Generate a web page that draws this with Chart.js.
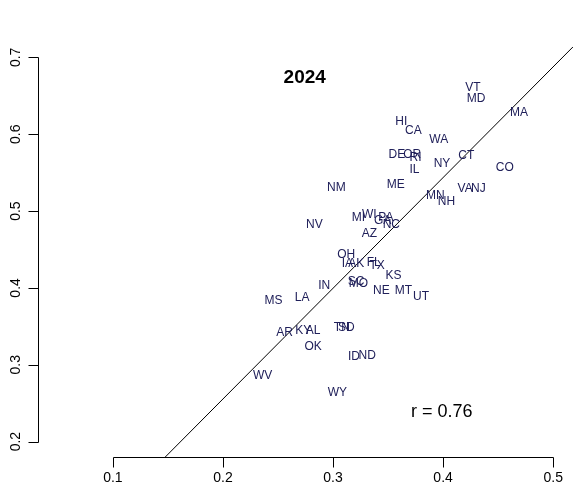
<!DOCTYPE html>
<html>
<head>
<meta charset="utf-8">
<script src="https://cdn.jsdelivr.net/npm/chart.js@4"></script>
<style>
  html, body { margin: 0; padding: 0; background: #fff; }
  canvas { display: block; }
</style>
</head>
<body>
<canvas id="chart2024" width="575" height="497"></canvas>
<script>
const states = ['VT','MD','MA','WA','CT','NY','CO','VA','NJ','MN','NH','HI','CA','DE','OR','RI','IL','ME','NM','NV',
                'MI','WI','PA','GA','NC','AZ','OH','IA','AK','FL','TX','KS','SC','MO','NE','MT','UT','IN','LA','MS',
                'AR','KY','AL','TN','SD','OK','ID','ND','WV','WY'];
const xValues = [0.427,0.430,0.469,0.396,0.421,0.399,0.456,0.420,0.432,0.393,0.403,0.362,0.373,0.358,0.372,0.375,0.374,0.357,0.303,0.283,
                 0.323,0.333,0.348,0.345,0.353,0.333,0.312,0.313,0.321,0.337,0.340,0.355,0.321,0.323,0.344,0.364,0.380,0.292,0.272,0.246,
                 0.256,0.273,0.282,0.308,0.312,0.282,0.319,0.331,0.236,0.304];
const yValues = [0.661,0.646,0.628,0.593,0.572,0.562,0.556,0.529,0.529,0.520,0.512,0.616,0.604,0.573,0.573,0.569,0.554,0.534,0.530,0.482,
                 0.492,0.495,0.491,0.488,0.482,0.471,0.443,0.431,0.431,0.433,0.429,0.416,0.408,0.406,0.396,0.396,0.388,0.403,0.387,0.383,
                 0.342,0.344,0.344,0.348,0.348,0.324,0.311,0.312,0.286,0.264];
const xTicks = [0.1, 0.2, 0.3, 0.4, 0.5];
const yTicks = [0.2, 0.3, 0.4, 0.5, 0.6, 0.7];
const panelTitle = '2024';
const corrLabel = 'r = 0.76';

// least squares fit y ~ x
const n = xValues.length;
const mx = xValues.reduce((a, b) => a + b, 0) / n;
const my = yValues.reduce((a, b) => a + b, 0) / n;
let sxy = 0, sxx = 0;
for (let i = 0; i < n; i++) {
    sxy += (xValues[i] - mx) * (yValues[i] - my);
    sxx += (xValues[i] - mx) ** 2;
}
const slope = sxy / sxx;
const intercept = my - slope * mx;

const FONT = '"Liberation Sans", Arial, sans-serif';

const rPlot = {
    id: 'rPlot',
    afterDraw(chart) {
        const ctx = chart.ctx;
        const xs = chart.scales.x;
        const ys = chart.scales.y;
        const area = chart.chartArea;

        // fitted line, clipped to plot region
        ctx.save();
        ctx.beginPath();
        ctx.rect(area.left, area.top, area.right - area.left, area.bottom - area.top);
        ctx.clip();
        ctx.strokeStyle = '#000';
        ctx.lineWidth = 1;
        ctx.beginPath();
        ctx.moveTo(xs.getPixelForValue(xs.min), ys.getPixelForValue(intercept + slope * xs.min));
        ctx.lineTo(xs.getPixelForValue(xs.max), ys.getPixelForValue(intercept + slope * xs.max));
        ctx.stroke();
        ctx.restore();

        // state labels
        ctx.save();
        ctx.font = '12px ' + FONT;
        ctx.fillStyle = '#20205a';
        ctx.textAlign = 'center';
        ctx.textBaseline = 'middle';
        chart.getDatasetMeta(0).data.forEach((pt, i) => {
            ctx.fillText(states[i], pt.x, pt.y);
        });
        ctx.restore();

        // axes, R style
        ctx.save();
        ctx.strokeStyle = '#000';
        ctx.fillStyle = '#000';
        ctx.lineWidth = 1;
        ctx.font = '14px ' + FONT;
        const axY = Math.round(area.bottom) + 0.5;
        const x0 = Math.round(xs.getPixelForValue(xTicks[0])) + 0.5;
        const x1 = Math.round(xs.getPixelForValue(xTicks[xTicks.length - 1])) + 0.5;
        ctx.beginPath();
        ctx.moveTo(x0, axY);
        ctx.lineTo(x1, axY);
        xTicks.forEach(t => {
            const px = Math.round(xs.getPixelForValue(t)) + 0.5;
            ctx.moveTo(px, axY);
            ctx.lineTo(px, axY + 10);
        });
        ctx.stroke();
        ctx.textAlign = 'center';
        ctx.textBaseline = 'middle';
        xTicks.forEach(t => {
            ctx.fillText(t.toFixed(1), xs.getPixelForValue(t), axY + 21);
        });

        const axX = Math.round(area.left) + 0.5;
        const y0 = Math.round(ys.getPixelForValue(yTicks[0])) + 0.5;
        const y1 = Math.round(ys.getPixelForValue(yTicks[yTicks.length - 1])) + 0.5;
        ctx.beginPath();
        ctx.moveTo(axX, y0);
        ctx.lineTo(axX, y1);
        yTicks.forEach(t => {
            const py = Math.round(ys.getPixelForValue(t)) + 0.5;
            ctx.moveTo(axX, py);
            ctx.lineTo(axX - 10, py);
        });
        ctx.stroke();
        yTicks.forEach(t => {
            ctx.save();
            ctx.translate(axX - 22, ys.getPixelForValue(t));
            ctx.rotate(-Math.PI / 2);
            ctx.fillText(t.toFixed(1), 0, 0);
            ctx.restore();
        });

        // panel text
        ctx.font = 'bold 19px ' + FONT;
        ctx.fillText(panelTitle, xs.getPixelForValue(0.2743), ys.getPixelForValue(0.674));
        ctx.font = '18px ' + FONT;
        ctx.fillText(corrLabel, xs.getPixelForValue(0.3988), ys.getPixelForValue(0.2386));
        ctx.restore();
    }
};

new Chart(document.getElementById('chart2024'), {
    type: 'scatter',
    data: {
        datasets: [{
            label: panelTitle,
            data: states.map((s, i) => ({ x: xValues[i], y: yValues[i] })),
            pointRadius: 0,
            pointHoverRadius: 0
        }]
    },
    options: {
        responsive: false,
        animation: false,
        devicePixelRatio: 1,
        layout: { padding: { left: 38, right: 2, top: 42, bottom: 40 } },
        scales: {
            x: { type: 'linear', min: 0.032, max: 0.518, display: false },
            y: { type: 'linear', min: 0.18, max: 0.72, display: false }
        },
        plugins: {
            legend: { display: false },
            tooltip: { enabled: false }
        }
    },
    plugins: [rPlot]
});
</script>
</body>
</html>
